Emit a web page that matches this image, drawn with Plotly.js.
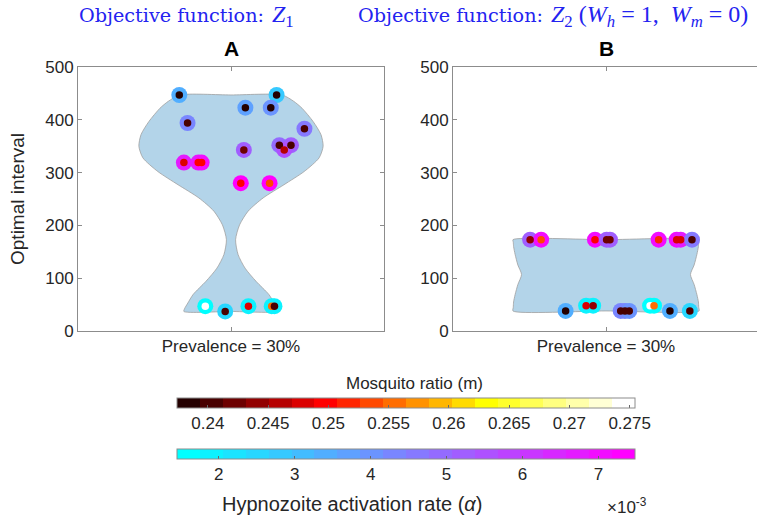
<!DOCTYPE html>
<html>
<head>
<meta charset="utf-8">
<script src="https://cdn.plot.ly/plotly-3.0.1.min.js"></script>
<style>html,body{margin:0;padding:0;background:#fff;}#chart{width:757px;height:516px;}</style>
</head>
<body>
<div id="chart"></div>
<script>
// ---------- data ----------
const categories = ['Prevalence = 30%'];
const yTicks = [0, 100, 200, 300, 400, 500];

// Panel A  (objective Z1)
const aX        = [0.831,1.149,1.047,1.130,0.858,1.240,1.158,1.196,1.174,1.042,0.846,0.893,0.904,1.032,1.126,0.916,0.981,1.057,1.133,1.142];
const aInterval = [447,447,423,423,394,383,352,352,343,343,319,319,319,280,280,47,37,47,47,47];
const aAlpha    = [0.0034,0.0028,0.0037,0.0040,0.0043,0.0046,0.0050,0.0051,0.0055,0.0052,0.0068,0.0068,0.0069,0.0073,0.0073,0.0015,0.0025,0.0019,0.0018,0.0018];
const aM        = [0.238,0.238,0.238,0.239,0.2402,0.241,0.241,0.241,0.245,0.243,0.248,0.249,0.250,0.250,0.254,0.275,0.2405,0.248,0.256,0.241];

// Panel B  (objective Z2, Wh=1, Wm=0)
const bX        = [0.752,0.788,0.964,1.002,1.013,1.172,1.231,1.244,1.281,0.868,0.935,0.958,1.048,1.062,1.076,1.144,1.157,1.209,1.274];
const bInterval = [173,173,173,173,173,173,173,173,173,38,48,48,38,38,38,48,48,38,38];
const bAlpha    = [0.0052,0.0070,0.0070,0.0052,0.0053,0.0071,0.0069,0.0067,0.0046,0.0034,0.0018,0.0019,0.0043,0.0043,0.0040,0.0015,0.0016,0.0034,0.0025];
const bM        = [0.244,0.254,0.250,0.242,0.243,0.251,0.248,0.248,0.240,0.238,0.248,0.244,0.240,0.241,0.241,0.275,0.256,0.238,0.241];

// Violin outlines (interval value, half-width in x units), top to bottom
const aViolinY  = [447,435,422,397,372,350,328,302,277,252,227,201,173,145,119,94,69,53,42,37];
const aViolinHW = [0.167,0.205,0.232,0.268,0.294,0.301,0.288,0.239,0.173,0.105,0.056,0.028,0.015,0.023,0.046,0.082,0.124,0.141,0.152,0.154];
const bViolinY  = [173,168,160,145,125,107,88,69,55,45,38];
const bViolinHW = [0.304,0.303,0.302,0.297,0.288,0.276,0.288,0.297,0.302,0.303,0.304];

// Colour bar ranges and ticks
const mRange = [0.2374, 0.2754];
const mTicks = [0.24,0.245,0.25,0.255,0.26,0.265,0.27,0.275];
const mTickLabels = ['0.24','0.245','0.25','0.255','0.26','0.265','0.27','0.275'];
const alphaRange = [0.001443, 0.007475];
const alphaTicks = [0.002,0.003,0.004,0.005,0.006,0.007];
const alphaTickLabels = ['2','3','4','5','6','7'];

// ---------- styling helpers ----------
const W = 757, H = 516;
const FONT = 'Liberation Sans, Arial, Helvetica, sans-serif';
const SERIF = 'DejaVu Serif, serif';
const MATH = 'Liberation Serif, Times New Roman, serif';
const BLUE = '#2323f0';
const TXT = '#262626';
const LINE = '#8c8c8c';
const NB = 20;
function stepped(fn){
  const cs=[];
  for(let i=0;i<NB;i++){const c=fn(i);cs.push([i/NB,c]);cs.push([(i+1)/NB,c]);}
  return cs;
}
function hotColor(i){
  const n1=Math.floor(3/8*NB), n2=n1, n3=NB-n1-n2;
  const r = i<n1 ? (i+1)/n1 : 1;
  const g = i<n1 ? 0 : (i<n1+n2 ? (i-n1+1)/n2 : 1);
  const b = i<n1+n2 ? 0 : (i-n1-n2+1)/n3;
  return `rgb(${Math.round(r*255)},${Math.round(g*255)},${Math.round(b*255)})`;
}
function coolColor(i){
  const r=i/(NB-1);
  return `rgb(${Math.round(r*255)},${Math.round((1-r)*255)},255)`;
}
const hotScale = stepped(hotColor);
const coolScale = stepped(coolColor);

function violin(ys, hws, xa, ya){
  const n=ys.length;
  const xs=[1], yy=[ys[0]];
  for(let i=0;i<n;i++){xs.push(1-hws[i]);yy.push(ys[i]);}
  xs.push(1); yy.push(ys[n-1]);
  for(let i=n-1;i>=0;i--){xs.push(1+hws[i]);yy.push(ys[i]);}
  xs.push(1); yy.push(ys[0]);
  return {x:xs,y:yy,xaxis:xa,yaxis:ya,type:'scatter',mode:'lines',fill:'toself',
    fillcolor:'rgb(179,212,233)',line:{color:'rgb(160,160,160)',width:0.8,shape:'spline',smoothing:0.7},hoverinfo:'skip'};
}

const cbCommon = {orientation:'h', xanchor:'center', x:405.5/W, yanchor:'top', len:457.6, lenmode:'pixels',
  thickness:10, thicknessmode:'pixels', xpad:0, ypad:0, outlinewidth:1, outlinecolor:LINE,
  ticks:'inside', ticklen:3, tickcolor:'#666', tickfont:{family:FONT,size:17,color:TXT}};

function outer(xs, ys, al, xa, ya, show){
  return {x:xs,y:ys,xaxis:xa,yaxis:ya,type:'scatter',mode:'markers',
    marker:{size:16,color:al,colorscale:coolScale,cmin:alphaRange[0],cmax:alphaRange[1],line:{width:0},
      showscale:show, colorbar:Object.assign({},cbCommon,{y:1-449.3/H,tickvals:alphaTicks,ticktext:alphaTickLabels})}};
}
function inner(xs, ys, m, xa, ya, show){
  return {x:xs,y:ys,xaxis:xa,yaxis:ya,type:'scatter',mode:'markers',
    marker:{size:7.5,color:m,colorscale:hotScale,cmin:mRange[0],cmax:mRange[1],line:{width:0},
      showscale:show, colorbar:Object.assign({},cbCommon,{y:1-397.7/H,tickvals:mTicks,ticktext:mTickLabels})}};
}

const data = [
  violin(aViolinY,aViolinHW,'x','y'),
  violin(bViolinY,bViolinHW,'x2','y2'),
  outer(aX,aInterval,aAlpha,'x','y',true),
  outer(bX,bInterval,bAlpha,'x2','y2',false),
  inner(aX,aInterval,aM,'x','y',true),
  inner(bX,bInterval,bM,'x2','y2',false)
];

const yDom = [1-331/H, 1-67/H];
const axBase = {showline:true, linecolor:LINE, linewidth:1, ticks:'inside', ticklen:4, tickcolor:LINE,
  showgrid:false, zeroline:false, tickfont:{family:FONT,size:17,color:TXT}};

function ann(x,y,text,font,xanchor){
  return {xref:'paper',yref:'paper',x:x/W,y:1-y/H,showarrow:false,xanchor:xanchor||'center',yanchor:'middle',text:text,font:font};
}
const titleFont = {family:SERIF,size:19.2,color:BLUE};
const mathFont = {family:MATH,size:24,color:BLUE};

const layout = {
  width:W, height:H, margin:{l:0,r:0,t:0,b:0}, paper_bgcolor:'#fff', plot_bgcolor:'#fff',
  showlegend:false, font:{family:FONT,color:TXT},
  xaxis: Object.assign({},axBase,{domain:[78/W,384/W], range:[0.5,1.5], tickvals:[1], ticktext:categories, mirror:'ticks', anchor:'y'}),
  yaxis: Object.assign({},axBase,{domain:yDom, range:[0,500], tickvals:yTicks, mirror:'ticks', anchor:'x',
    title:{text:'Optimal interval', font:{family:FONT,size:19,color:TXT}, standoff:15}}),
  xaxis2: Object.assign({},axBase,{domain:[453/W,1], range:[0.5,0.5+304/306], tickvals:[1], ticktext:categories, mirror:'ticks', anchor:'y2'}),
  yaxis2: Object.assign({},axBase,{domain:yDom, range:[0,500], tickvals:yTicks, mirror:false, anchor:'x2'}),
  annotations:[
    ann(77,15,'Objective function:',titleFont,'left'),
    ann(270,16,'<i>Z</i><sub>1</sub>',mathFont,'left'),
    ann(356,15,'Objective function:',titleFont,'left'),
    ann(549,16,'<i>Z</i><sub>2</sub> (<i>W<sub>h</sub></i> = 1,&nbsp; <i>W<sub>m</sub></i> = 0)',mathFont,'left'),
    ann(231,49,'<b>A</b>',{family:FONT,size:21,color:'#000'}),
    ann(606,49,'<b>B</b>',{family:FONT,size:21,color:'#000'}),
    ann(414,383,'Mosquito ratio (m)',{family:FONT,size:17,color:TXT}),
    ann(352,504,'Hypnozoite activation rate (<i>α</i>)',{family:FONT,size:20,color:TXT}),
    ann(627,506,'×10<sup>-3</sup>',{family:FONT,size:17,color:TXT})
  ]
};

Plotly.newPlot('chart', data, layout, {displayModeBar:false, staticPlot:true});
</script>
</body>
</html>
